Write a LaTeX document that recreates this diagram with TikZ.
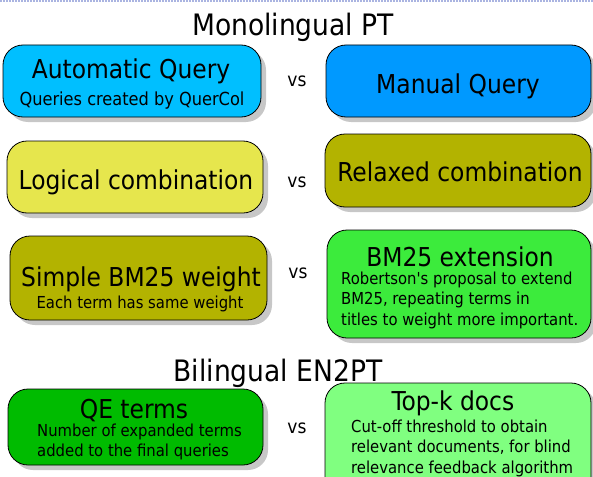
\documentclass[tikz,border=0pt]{standalone}
\usepackage{fontspec}
\setmainfont{DejaVu Sans Condensed}
\usepackage{tikz}
\usetikzlibrary{shadows}

\definecolor{autoblue}{RGB}{0,191,255}
\definecolor{manblue}{RGB}{0,153,255}
\definecolor{logyellow}{RGB}{230,230,77}
\definecolor{relolive}{RGB}{179,179,0}
\definecolor{extgreen}{RGB}{60,235,60}
\definecolor{qegreen}{RGB}{0,187,0}
\definecolor{topgreen}{RGB}{128,255,128}
\definecolor{slideline}{RGB}{170,180,225}

\newcommand{\headfont}{\fontsize{29.5}{34}\selectfont}
\newcommand{\boxfont}{\fontsize{26}{30}\selectfont}
\newcommand{\notefont}{\fontsize{16.5}{20.5}\selectfont}
\newcommand{\vsfont}{\fontsize{19}{23}\selectfont}

\tikzstyle{pill} = [draw=black,line width=0.8pt,rounded corners=20pt,
  drop shadow={shadow xshift=5pt,shadow yshift=-5pt,fill=black!22,opacity=1}]
\tikzstyle{note} = [anchor=west,align=left,inner sep=0pt,font=\notefont]
\tikzstyle{topband} = [slideline,line width=2.5pt,dash pattern=on 2pt off 1pt]

\begin{document}
\begin{tikzpicture}[x=1pt,y=-1pt]
\useasboundingbox (0,0) rectangle (593,476);
\clip (0,0) rectangle (593,476);
\draw[topband] (0,1) -- (593,1);

\draw(293,36) node[anchor=base] (mono) {\headfont Monolingual PT};

% query
\draw[pill,fill=autoblue] (3,45) rectangle (261,117);
\draw(131,78) node[anchor=base] (auto) {\boxfont Automatic Query};
\draw(132,105) node[anchor=base] (autonote) {\fontsize{18}{21}\selectfont Queries created by QuerCol};
\draw(297,87) node[anchor=base] (vsa) {\vsfont vs};
\draw[pill,fill=manblue] (326,45) rectangle (591,117);
\draw(458,93) node[anchor=base] (manual) {\boxfont Manual Query};

% combination
\draw[pill,fill=logyellow] (7,141) rectangle (263,213);
\draw(136,189) node[anchor=base] (logic) {\boxfont Logical combination};
\draw(297,187) node[anchor=base] (vsb) {\vsfont vs};
\draw[pill,fill=relolive] (325,134) rectangle (591,207);
\draw(460,181) node[anchor=base] (relax) {\boxfont Relaxed combination};

% weight
\draw[pill,fill=relolive] (10,236) rectangle (267,320);
\draw(141,286) node[anchor=base] (simple) {\boxfont Simple BM25 weight};
\draw(140,308) node[anchor=base] (simplenote) {\notefont Each term has same weight};
\draw(298,278) node[anchor=base] (vsc) {\vsfont vs};
\draw[pill,fill=extgreen] (327,230) rectangle (591,338);
\draw(460,266) node[anchor=base] (ext) {\boxfont BM25 extension};
\draw(341,300) node[note] (extnote)
  {Robertson\textquotesingle s proposal to extend\\BM25, repeating terms in\\titles to weight more important.};

\draw(278,381) node[anchor=base] (bili) {\headfont Bilingual EN2PT};

% expansion
\draw[pill,fill=qegreen] (8,389) rectangle (263,465);
\draw(134,418) node[anchor=base] (qe) {\boxfont QE terms};
\draw(37,442) node[note] (qenote)
  {Number of expanded terms\\added to the final queries};
\draw(297,433) node[anchor=base] (vsd) {\vsfont vs};
\draw[pill,fill=topgreen] (325,383) rectangle (591,500);
\draw(453,410) node[anchor=base] (topk) {\boxfont Top-k docs};
\draw(351,448) node[note] (topknote)
  {Cut-off threshold to obtain\\relevant documents, for blind\\relevance feedback algorithm};

\end{tikzpicture}
\end{document}
